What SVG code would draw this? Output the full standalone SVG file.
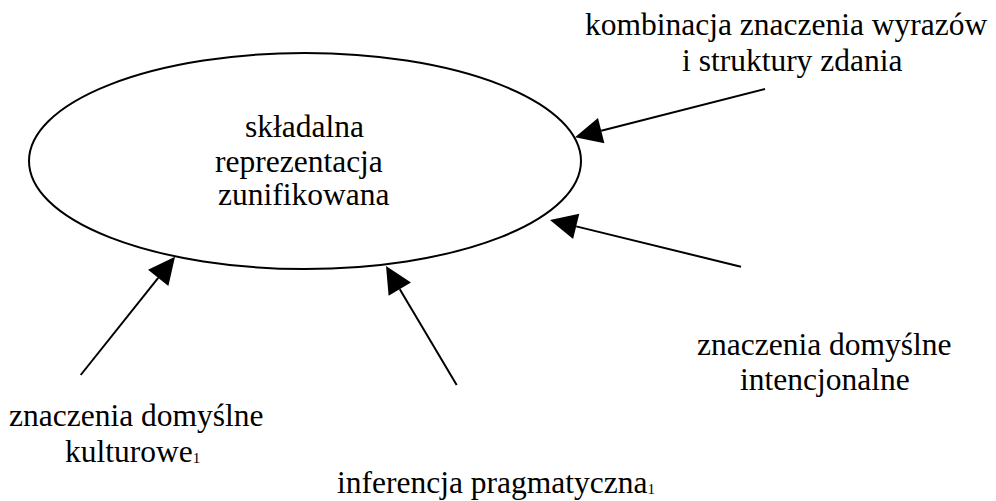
<svg xmlns="http://www.w3.org/2000/svg" width="996" height="501" viewBox="0 0 996 501">
<style>
  .c { stroke: #000; stroke-width: 2; fill: none; }
  .n { stroke: #000; stroke-width: 2; fill: #fff; }
</style>
<defs>
  <marker id="ah" viewBox="-1 -14 29 28" refX="0" refY="0" markerWidth="29" markerHeight="28" markerUnits="userSpaceOnUse" orient="auto" overflow="visible">
    <path d="M0,-13 L27,0 L0,13 Z" fill="#000"/>
  </marker>
</defs>
<rect width="996" height="501" fill="#fff"/>
<g font-family="Liberation Serif" font-size="31.5" fill="#000">
<g id="center-node">
  <ellipse class="n" cx="305" cy="161" rx="276" ry="108"/>
  <text x="245" y="137">składalna</text>
  <text x="215" y="172">reprezentacja</text>
  <text x="218" y="205">zunifikowana</text>
</g>
<g id="node-kombinacja">
  <text x="585" y="35">kombinacja znaczenia wyrazów</text>
  <text x="682" y="71">i struktury zdania</text>
</g>
<g id="node-intencjonalne">
  <text x="697" y="355">znaczenia domyślne</text>
  <text x="740" y="390">intencjonalne</text>
</g>
<g id="node-kulturowe">
  <text x="9" y="426">znaczenia domyślne</text>
  <text x="65" y="462">kulturowe<tspan font-size="15" dy="1">1</tspan></text>
</g>
<g id="node-inferencja">
  <text x="337" y="493">inferencja pragmatyczna<tspan font-size="15" dy="1">1</tspan></text>
</g>
</g>
<g id="connectors">
  <line class="c" x1="765" y1="89" x2="601.2" y2="130.7" marker-end="url(#ah)"/>
  <line class="c" x1="741" y1="266.7" x2="576.2" y2="226.4" marker-end="url(#ah)"/>
  <line class="c" x1="80.7" y1="375" x2="158.2" y2="277.8" marker-end="url(#ah)"/>
  <line class="c" x1="456.7" y1="385" x2="399.8" y2="289.2" marker-end="url(#ah)"/>
</g>
</svg>
